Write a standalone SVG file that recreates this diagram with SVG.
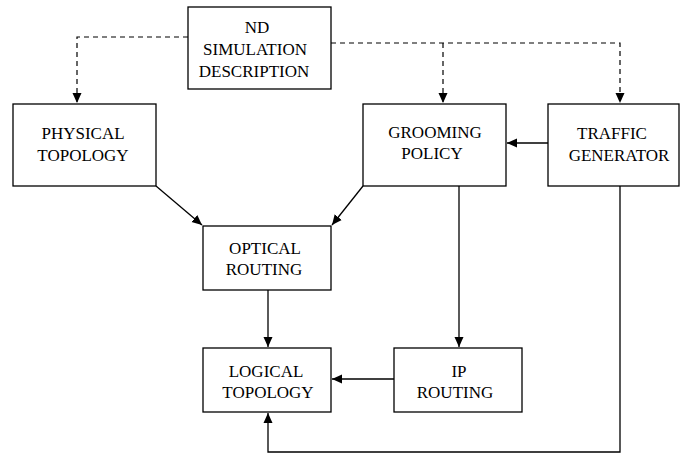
<svg xmlns="http://www.w3.org/2000/svg" width="680" height="453" viewBox="0 0 680 453">
<defs>
<marker id="ah" viewBox="0 0 10 10" refX="10" refY="5" markerWidth="10" markerHeight="10" markerUnits="userSpaceOnUse" orient="auto">
<path d="M0,0.5 L10,5 L0,9.5 z" fill="#000"/>
</marker>
<style>
.box{fill:#fff;stroke:#000;stroke-width:1.3}
.t{font-family:"Liberation Serif","Times New Roman",serif;font-size:17px;text-anchor:middle;fill:#000}
.c{fill:none;stroke:#000;stroke-width:1.3}
.d{fill:none;stroke:#000;stroke-width:1.2;stroke-dasharray:5,4}
</style>
</defs>
<rect width="680" height="453" fill="#fff"/>
<g id="connectors">
<polyline class="d" points="188,37 77,37 77,103" marker-end="url(#ah)"/>
<polyline class="d" points="331,43 620,43 620,103" marker-end="url(#ah)"/>
<line class="d" x1="443" y1="43" x2="443" y2="103" marker-end="url(#ah)"/>
<line class="c" x1="548" y1="143" x2="507" y2="143" marker-end="url(#ah)"/>
<line class="c" x1="156" y1="186" x2="202" y2="225" marker-end="url(#ah)"/>
<line class="c" x1="363" y1="186" x2="332" y2="225" marker-end="url(#ah)"/>
<line class="c" x1="268" y1="290" x2="268" y2="347" marker-end="url(#ah)"/>
<line class="c" x1="459" y1="186" x2="459" y2="347" marker-end="url(#ah)"/>
<line class="c" x1="394" y1="379" x2="332" y2="379" marker-end="url(#ah)"/>
<polyline class="c" points="620,186 620,452 268,452 268,413" marker-end="url(#ah)"/>
</g>
<g id="nd">
<rect class="box" x="188" y="7" width="143" height="82"/>
<text class="t" x="257" y="33">ND</text>
<text class="t" x="255" y="55">SIMULATION</text>
<text class="t" x="254" y="77">DESCRIPTION</text>
</g>
<g id="physical">
<rect class="box" x="13" y="104" width="143" height="82"/>
<text class="t" x="83" y="139">PHYSICAL</text>
<text class="t" x="83" y="161">TOPOLOGY</text>
</g>
<g id="grooming">
<rect class="box" x="363" y="104" width="143" height="82"/>
<text class="t" x="435" y="138">GROOMING</text>
<text class="t" x="432" y="159">POLICY</text>
</g>
<g id="traffic">
<rect class="box" x="548" y="104" width="131" height="82"/>
<text class="t" x="612" y="139">TRAFFIC</text>
<text class="t" x="619" y="161">GENERATOR</text>
</g>
<g id="optical">
<rect class="box" x="203" y="226" width="128" height="64"/>
<text class="t" x="265" y="254">OPTICAL</text>
<text class="t" x="264" y="275">ROUTING</text>
</g>
<g id="logical">
<rect class="box" x="203" y="348" width="128" height="64"/>
<text class="t" x="266" y="377">LOGICAL</text>
<text class="t" x="268" y="398">TOPOLOGY</text>
</g>
<g id="ip">
<rect class="box" x="394" y="348" width="128" height="64"/>
<text class="t" x="459" y="377">IP</text>
<text class="t" x="455" y="398">ROUTING</text>
</g>
</svg>
